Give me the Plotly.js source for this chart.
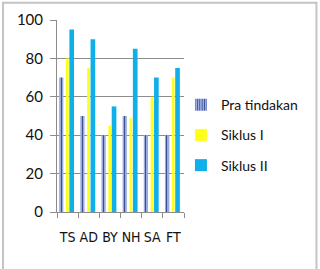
<!DOCTYPE html>
<html>
<head>
<meta charset="utf-8">
<script src="https://cdn.plot.ly/plotly-3.0.1.min.js"></script>
<style>html,body{margin:0;padding:0;background:#fff;}#chart{width:320px;height:269px;}</style>
</head>
<body>
<div id="chart"></div>
<script>
const categories = ["TS", "AD", "BY", "NH", "SA", "FT"];
const seriesNames = ["Pra tindakan", "Siklus I", "Siklus II"];
const praTindakan = [70, 50, 40, 50, 40, 40];
const siklusI = [80, 75, 45, 49, 60, 70];
const siklusII = [95, 90, 55, 85, 70, 75];
const yTicks = [0, 20, 40, 60, 80, 100];

const fontFam = "Lato, 'Open Sans', sans-serif";
const xIdx = categories.map((_, i) => i);

const traces = [
  {
    type: "bar", name: seriesNames[0], x: xIdx, y: praTindakan,
    width: 0.2, offset: -0.4, legendgroup: "a",
    marker: {color: "#8a9ed6", line: {width: 0},
      pattern: {shape: "|", fgcolor: "#3a4f96", bgcolor: "#a3b4e4", size: 3, solidity: 0.4}}
  },
  {
    type: "bar", name: seriesNames[1], x: xIdx, y: siklusI,
    width: 0.13, offset: -0.075, legendgroup: "b",
    marker: {color: "#ffff1a", line: {width: 0}}
  },
  {
    type: "bar", name: seriesNames[2], x: xIdx, y: siklusII,
    width: 0.22, offset: 0.085, legendgroup: "c",
    marker: {color: "#0fb0ea", line: {width: 0}}
  }
];

const layout = {
  width: 320, height: 269,
  margin: {l: 57, r: 136, t: 20, b: 57, pad: 0, autoexpand: false},
  paper_bgcolor: "#ffffff", plot_bgcolor: "#ffffff",
  barmode: "group",
  showlegend: true,
  legend: {
    x: 0.976, xanchor: "left", y: 0.64, yanchor: "top",
    font: {family: fontFam, size: 14, color: "#111"},
    tracegroupgap: 9, itemwidth: 30, bgcolor: "rgba(0,0,0,0)"
  },
  xaxis: {
    type: "linear", range: [-0.5, 5.5], autorange: false,
    tickmode: "array", tickvals: xIdx, ticktext: categories,
    ticks: "", showline: true, linecolor: "#8c8c8c", linewidth: 1,
    showgrid: false, zeroline: false, tickangle: 0, ticklabelstandoff: 12,
    minor: {tick0: -0.5, dtick: 1, ticks: "outside", ticklen: 5, tickcolor: "#8c8c8c", showgrid: false},
    tickfont: {family: "'DejaVu Sans Condensed', 'Liberation Sans Narrow', sans-serif", size: 14, color: "#111"}, fixedrange: true
  },
  yaxis: {
    range: [0, 100], tickvals: yTicks, ticktext: yTicks.map(String),
    ticks: "outside", ticklen: 6, tickcolor: "#8c8c8c",
    showline: true, linecolor: "#8c8c8c", linewidth: 1,
    showgrid: true, gridcolor: "#8c8c8c", gridwidth: 1, zeroline: false,
    ticklabelstandoff: 4,
    tickfont: {family: fontFam, size: 15, color: "#111"}, fixedrange: true
  },
  shapes: [{
    type: "rect", xref: "paper", yref: "paper",
    x0: -0.425, x1: 2.043, y0: -0.33, y1: 1.09,
    line: {color: "#c4c4c4", width: 2}, fillcolor: "rgba(0,0,0,0)", layer: "below"
  }],
  font: {family: fontFam}
};

Plotly.newPlot("chart", traces, layout, {displayModeBar: false, staticPlot: true});
</script>
</body>
</html>
